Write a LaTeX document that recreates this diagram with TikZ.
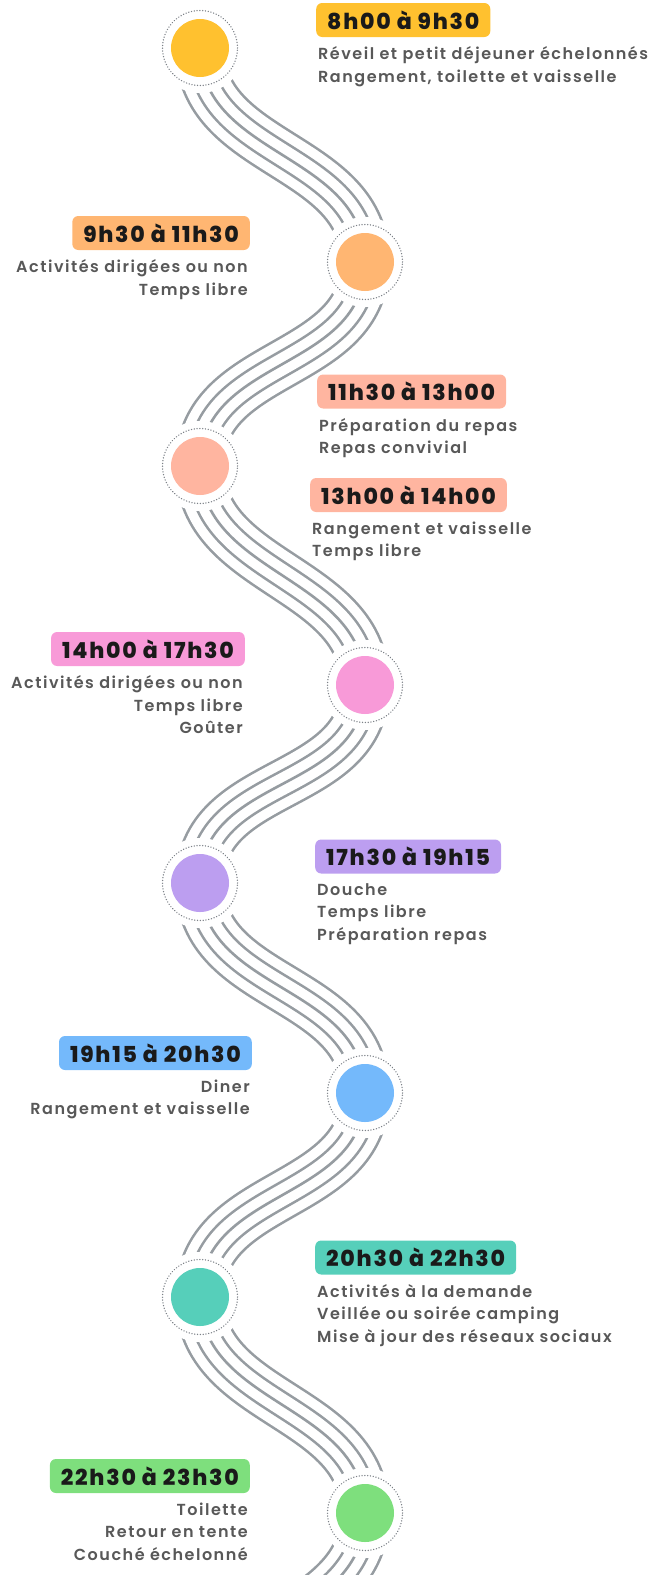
\documentclass[tikz,border=0pt]{standalone}
\usepackage{fontspec}
\setmainfont{Lato}
\newfontfamily\hourfont{Poppins}[BoldFont=* ExtraBold,LetterSpace=8]
\newfontfamily\taskfont{Poppins}[UprightFont=* SemiBold,LetterSpace=9.5]
\usetikzlibrary{positioning}
\definecolor{strandgray}{RGB}{150,156,161}
\definecolor{ringgray}{RGB}{125,130,136}
\definecolor{taskgray}{RGB}{88,88,88}
\definecolor{hourblack}{RGB}{26,26,26}
\definecolor{sun}{RGB}{255,193,47}
\definecolor{apricot}{RGB}{255,182,114}
\definecolor{salmon}{RGB}{255,181,160}
\definecolor{rose}{RGB}{248,154,216}
\definecolor{lilac}{RGB}{188,158,240}
\definecolor{sky}{RGB}{116,185,251}
\definecolor{mint}{RGB}{86,207,186}
\definecolor{leaf}{RGB}{126,223,125}
\tikzset{
  gap/.style={circle,fill=white,minimum size=90pt,inner sep=0pt},
  halo/.style={circle,draw=ringgray,line width=1.5pt,dash pattern=on 0.01pt off 2.8pt,line cap=round,minimum size=75pt,inner sep=0pt},
  spot/.style={circle,fill=#1,minimum size=58pt,inner sep=0pt},
  hour/.style={fill=#1,rounded corners=6pt,text=hourblack,minimum height=34pt,inner xsep=11pt,inner ysep=0pt,font=\hourfont\bfseries\fontsize{22}{22}\selectfont},
  task/.style={inner sep=0pt,text=taskgray,font=\taskfont\fontsize{16}{22.5}\selectfont}
}
\begin{document}
\begin{tikzpicture}[x=1pt,y=-1pt]
\useasboundingbox (0,0) rectangle (651,1575);
\coordinate (c1) at (200,48);
\coordinate (c2) at (365,262);
\coordinate (c3) at (200,466);
\coordinate (c4) at (365,685);
\coordinate (c5) at (200,883);
\coordinate (c6) at (365,1093);
\coordinate (c7) at (200,1297);
\coordinate (c8) at (365,1513);
\coordinate (c9) at (200,1729);
\begin{scope}
\clip (0,0) rectangle (651,1575);
\foreach \i/\j in {1/2,2/3,3/4,4/5,5/6,6/7,7/8,8/9}
  \foreach \w/\c in {50.6/strandgray,45.4/white,26.6/strandgray,21.4/white,2.6/strandgray}
    \draw[line width=\w pt,\c] (c\i) .. controls +(0,110) and +(0,-110) .. (c\j);
\end{scope}
\foreach \i/\col in {1/sun,2/apricot,3/salmon,4/rose,5/lilac,6/sky,7/mint,8/leaf}{
  \node[gap] at (c\i) {};
  \node[halo] at (c\i) {};
  \node[spot=\col] (s\i) at (c\i) {};
}

\node[hour=sun,anchor=west] (h1) at (316,20) {8h00 à 9h30};
\node[task,align=left,below=9.5pt of h1.south west,anchor=north west,xshift=2pt] (t1) {Réveil et petit déjeuner échelonnés\\Rangement, toilette et vaisselle};

\node[hour=apricot,anchor=east] (h2) at (250,233) {9h30 à 11h30};
\node[task,align=right,below=9.5pt of h2.south east,anchor=north east,xshift=-2pt] (t2) {Activités dirigées ou non\\Temps libre};

\node[hour=salmon,anchor=west] (h3) at (317,391.5) {11h30 à 13h00};
\node[task,align=left,below=9.5pt of h3.south west,anchor=north west,xshift=2pt] (t3) {Préparation du repas\\Repas convivial};

\node[hour=salmon,anchor=west] (h4) at (310,495) {13h00 à 14h00};
\node[task,align=left,below=9.5pt of h4.south west,anchor=north west,xshift=2pt] (t4) {Rangement et vaisselle\\Temps libre};

\node[hour=rose,anchor=east] (h5) at (245,649) {14h00 à 17h30};
\node[task,align=right,below=9.5pt of h5.south east,anchor=north east,xshift=-2pt] (t5) {Activités dirigées ou non\\Temps libre\\Goûter};

\node[hour=lilac,anchor=west] (h6) at (315,856.5) {17h30 à 19h15};
\node[task,align=left,below=9.5pt of h6.south west,anchor=north west,xshift=2pt] (t6) {Douche\\Temps libre\\Préparation repas};

\node[hour=sky,anchor=east] (h7) at (252,1053) {19h15 à 20h30};
\node[task,align=right,below=9.5pt of h7.south east,anchor=north east,xshift=-2pt] (t7) {Diner\\Rangement et vaisselle};

\node[hour=mint,anchor=west] (h8) at (315,1257.5) {20h30 à 22h30};
\node[task,align=left,below=9.5pt of h8.south west,anchor=north west,xshift=2pt] (t8) {Activités à la demande\\Veillée ou soirée camping\\Mise à jour des réseaux sociaux};

\node[hour=leaf,anchor=east] (h9) at (250,1476) {22h30 à 23h30};
\node[task,align=right,below=9.5pt of h9.south east,anchor=north east,xshift=-2pt] (t9) {Toilette\\Retour en tente\\Couché échelonné};
\end{tikzpicture}
\end{document}
